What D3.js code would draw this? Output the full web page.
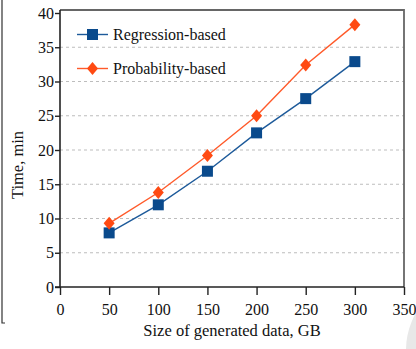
<!DOCTYPE html>
<html>
<head>
<meta charset="utf-8">
<script src="https://cdn.jsdelivr.net/npm/d3@7"></script>
<style>
  body { margin: 0; background: #fff; }
  svg text { font-family: "Liberation Serif", "DejaVu Serif", serif; fill: #111; }
</style>
</head>
<body>
<div id="chart"></div>
<script>
// data
var sizes = [50, 100, 150, 200, 250, 300];
var regression = [7.9, 12.0, 16.9, 22.5, 27.5, 32.9];
var probability = [9.3, 13.8, 19.2, 25.0, 32.4, 38.3];
var xTicks = [0, 50, 100, 150, 200, 250, 300, 350];
var yTicks = [0, 5, 10, 15, 20, 25, 30, 35, 40];
var gridTicks = [5, 10, 15, 20, 25, 30, 35];

var width = 416, height = 349;
var margin = { top: 13, bottom: 62, left: 60, right: 12 };
var serif = '"Liberation Serif", "Times New Roman", serif';

var svg = d3.select('#chart')
    .append('svg')
    .attr('width', width)
    .attr('height', height);

// watermark arc in the corner
svg.append('circle')
    .attr('cx', 480).attr('cy', 350).attr('r', 74)
    .attr('fill', '#e8e8e8');

// left bracket edge
svg.append('path')
    .attr('d', 'M2,0 V323 H5')
    .attr('fill', 'none')
    .attr('stroke', '#333')
    .attr('stroke-width', 1.2);

var x = d3.scaleLinear()
    .domain([0, 350])
    .range([margin.left, width - margin.right]);

var y = d3.scaleLinear()
    .domain([0, 40])
    .range([height - margin.bottom, margin.top]);

var x0 = x(0), x1 = x(350), y0 = y(0);

// grid lines
svg.append('g')
    .selectAll('line')
    .data(gridTicks)
    .enter()
    .append('line')
    .attr('x1', x0).attr('x2', x1)
    .attr('y1', function(d) { return y(d); })
    .attr('y2', function(d) { return y(d); })
    .attr('stroke', '#bdbdbd')
    .attr('stroke-width', 1)
    .attr('stroke-dasharray', '3,3');

// top and right frame
svg.append('path')
    .attr('d', 'M' + x0 + ',10 H' + x1 + ' V' + y0)
    .attr('fill', 'none')
    .attr('stroke', '#666')
    .attr('stroke-width', 1.8);

// axes
var xAxis = d3.axisBottom(x).tickValues(xTicks).tickSize(8).tickSizeOuter(0);
var yAxis = d3.axisLeft(y).tickValues(yTicks).tickSize(5).tickSizeOuter(0);

var gx = svg.append('g')
    .attr('transform', 'translate(0,' + y0 + ')')
    .call(xAxis)
    .attr('font-family', serif)
    .attr('font-size', 16);
gx.select('.domain').remove();
gx.append('line').attr('x1', x0 - 5).attr('x2', x1).attr('stroke', '#222').attr('stroke-width', 1.6);
gx.selectAll('.tick line').attr('stroke', '#222').attr('stroke-width', 1.4);
gx.selectAll('.tick text')
    .attr('y', 17)
    .style('font-family', serif)
    .style('font-size', '16px')
    .attr('fill', '#111');

var gy = svg.append('g')
    .attr('transform', 'translate(' + x0 + ',0)')
    .call(yAxis)
    .attr('font-family', serif)
    .attr('font-size', 16);
gy.select('.domain').remove();
gy.append('line').attr('y1', 10).attr('y2', y0).attr('stroke', '#222').attr('stroke-width', 1.6);
gy.selectAll('.tick line').attr('stroke', '#222').attr('stroke-width', 1.4);
gy.selectAll('.tick text')
    .attr('x', -6)
    .style('font-family', serif)
    .style('font-size', '16px')
    .attr('fill', '#111');

// axis titles
svg.append('text')
    .attr('x', 232)
    .attr('y', 336)
    .attr('text-anchor', 'middle')
    .style('font-size', '16.5px')
    .text('Size of generated data, GB');

svg.append('text')
    .attr('transform', 'translate(23,165) rotate(-90)')
    .attr('text-anchor', 'middle')
    .style('font-size', '16.5px')
    .text('Time, min');

// series
var series = [
    { name: 'Regression-based', values: regression, line: '#1d5a9a', fill: '#0a4a8c', shape: 'square' },
    { name: 'Probability-based', values: probability, line: '#ff5a2a', fill: '#ff4a12', shape: 'diamond' }
];

var line = d3.line()
    .x(function(d, i) { return x(sizes[i]); })
    .y(function(d) { return y(d); });

function marker(g, s, cx, cy) {
    if (s.shape === 'square') {
        g.append('rect')
            .attr('x', cx - 5.5).attr('y', cy - 5.5)
            .attr('width', 11).attr('height', 11)
            .attr('fill', s.fill);
    } else {
        g.append('path')
            .attr('d', 'M' + cx + ',' + (cy - 6.5) + ' L' + (cx + 5.5) + ',' + cy +
                ' L' + cx + ',' + (cy + 6.5) + ' L' + (cx - 5.5) + ',' + cy + 'Z')
            .attr('fill', s.fill);
    }
}

series.forEach(function(s) {
    svg.append('path')
        .datum(s.values)
        .attr('d', line)
        .attr('fill', 'none')
        .attr('stroke', s.line)
        .attr('stroke-width', 1.4);
    var g = svg.append('g');
    s.values.forEach(function(v, i) {
        marker(g, s, x(sizes[i]), y(v));
    });
});

// legend
series.forEach(function(s, i) {
    var ly = 34.5 + i * 34;
    var g = svg.append('g');
    g.append('line')
        .attr('x1', 77).attr('x2', 108)
        .attr('y1', ly).attr('y2', ly)
        .attr('stroke', s.line)
        .attr('stroke-width', 1.4);
    marker(g, s, 92.5, ly);
    g.append('text')
        .attr('x', 113)
        .attr('y', ly + 5)
        .style('font-size', '16px')
        .text(s.name);
});
</script>
</body>
</html>
